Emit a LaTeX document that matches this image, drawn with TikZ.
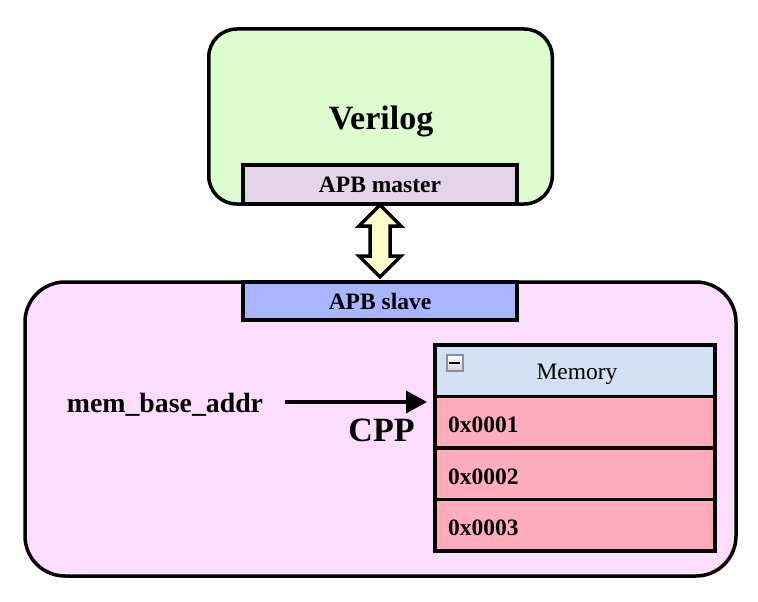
\documentclass[tikz,border=0pt]{standalone}
\usepackage{fontspec}
\setmainfont{Liberation Serif}
\usepackage{tikz}
\usetikzlibrary{positioning,arrows.meta}
\usepackage{xcolor}
\definecolor{verilogfill}{RGB}{221,253,208}
\definecolor{masterfill}{RGB}{226,213,231}
\definecolor{slavefill}{RGB}{170,180,255}
\definecolor{cppfill}{RGB}{253,221,252}
\definecolor{memhead}{RGB}{211,224,242}
\definecolor{memrow}{RGB}{255,173,189}
\definecolor{linkfill}{RGB}{255,255,204}
\definecolor{iconedge}{RGB}{136,144,160}

\begin{document}
\begin{tikzpicture}[x=1pt, y=-1pt, >={Triangle[length=21pt,width=22pt]},
	box/.style={draw, line width=3.5pt, outer sep=0pt, inner sep=0pt},
	title text/.style={font=\fontsize{34}{37}\selectfont\bfseries},
	name text/.style={font=\fontsize{27.8}{30}\selectfont\bfseries},
	apb text/.style={font=\fontsize{23.5}{26}\selectfont\bfseries},
	cell/.style={box, minimum width=280pt, minimum height=51.5pt}]
	
	\useasboundingbox (0,0) rectangle (758,602);
	
	% verilog side
	\node [box, fill=verilogfill, rounded corners=28pt, minimum width=343.5pt, minimum height=175pt] (verilog) at (380.5,116.5) {};
	\node [title text, anchor=base] (verilog-title) at (381,129) {Verilog};
	\node [box, apb text, fill=masterfill, minimum width=274pt, minimum height=39pt] (master) at (380,184.5) {APB master};
	
	% cpp side
	\node [box, fill=cppfill, rounded corners=40pt, minimum width=711pt, minimum height=294pt] (cpp) at (380.5,429) {};
	\node [box, apb text, fill=slavefill, minimum width=274pt, minimum height=38pt] (slave) at (380,301) {APB slave};
	
	\draw [line width=3.5pt, fill=linkfill] ([yshift=-1pt]master.south)
	  -- ++(21,21) -- ++(-11,0) -- ++(0,30) -- ++(11,0) -- ++(-21,21)
	  -- ++(-21,-21) -- ++(11,0) -- ++(0,-30) -- ++(-11,0) -- cycle;
	
	% memory
	\node [cell, fill=memhead] (memory) at (575,370.75) {};
	\node [draw=iconedge, top color=white, bottom color=gray!35, line width=2pt, minimum size=16pt, inner sep=0pt] (collapse) at (454.5,363) {};
	\draw [line width=2.5pt] ([xshift=-5.5pt]collapse.center) -- ([xshift=5.5pt]collapse.center);
	\node [font=\fontsize{23.5}{26}\selectfont, anchor=base] (memory-title) at (577,379) {Memory};
	
	\foreach \a [count=\i] in {0001,0002,0003}
	  \node [cell, fill=memrow] (row-\i) at (575,370.75+51.5*\i) {};
	
	\foreach \a [count=\i] in {0001,0002,0003}
	  \node [apb text, anchor=base west, inner sep=0pt] (addr-\i) at (448,381+51.5*\i) {0x\a};
	
	\node [name text, anchor=base] (base-addr) at (165,412) {mem\_base\_addr};
	\node [title text, anchor=base] (cpp-title) at (381.5,441) {CPP};
	
	\coordinate (addr-out) at (285,402);
	\draw [->, line width=3.5pt, shorten >=8pt] (addr-out) -- (addr-out -| row-1.west);
	
\end{tikzpicture}
\end{document}
